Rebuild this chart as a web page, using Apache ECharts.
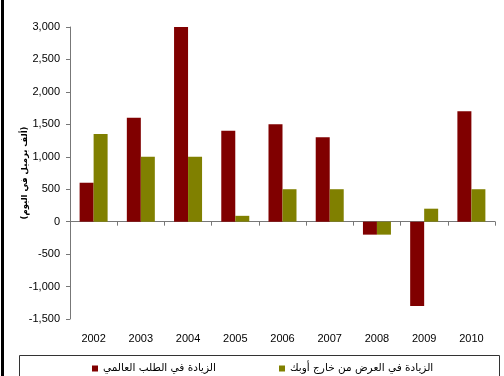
<!DOCTYPE html>
<html>
<head>
<meta charset="utf-8">
<script src="https://cdn.jsdelivr.net/npm/echarts@6/dist/echarts.min.js"></script>
<style>
  html, body { margin: 0; padding: 0; background: #fff; }
  #chart { width: 504px; height: 376px; }
</style>
</head>
<body>
<div id="chart"></div>
<script>
// Years on the category axis
const years = ['2002', '2003', '2004', '2005', '2006', '2007', '2008', '2009', '2010'];
// Growth in world demand (thousand barrels per day)
const demandGrowth = [600, 1600, 3000, 1400, 1500, 1300, -200, -1300, 1700];
// Growth in non-OPEC supply (thousand barrels per day)
const nonOpecSupplyGrowth = [1350, 1000, 1000, 90, 500, 500, -200, 200, 500];
// Series names and axis title
const demandName = 'الزيادة في الطلب العالمي';
const supplyName = 'الزيادة في العرض من خارج أوبك';
const unitTitle = '(ألف برميل في اليوم)';

const chart = echarts.init(document.getElementById('chart'));
const font = '"Liberation Sans", Arial, "DejaVu Sans", sans-serif';
const arabicFont = '"DejaVu Sans", sans-serif';

chart.setOption({
  animation: false,
  backgroundColor: '#fff',
  textStyle: { fontFamily: font },
  grid: { left: 70, right: 9, top: 27, bottom: 57 },
  xAxis: [
    {
      type: 'category',
      data: years,
      axisLine: { onZero: true, lineStyle: { color: '#777', width: 1 } },
      axisTick: { show: true, inside: false, length: 4, lineStyle: { color: '#777' } },
      axisLabel: { show: false }
    },
    {
      type: 'category',
      data: years,
      position: 'bottom',
      axisLine: { show: false, onZero: false },
      axisTick: { show: false },
      axisLabel: { color: '#000', fontSize: 11, margin: 14, fontFamily: font }
    }
  ],
  yAxis: {
    type: 'value',
    min: -1500,
    max: 3000,
    interval: 500,
    splitLine: { show: false },
    axisLine: { show: true, lineStyle: { color: '#777', width: 1 } },
    axisTick: { show: true, length: 4, lineStyle: { color: '#777' } },
    axisLabel: {
      color: '#000',
      fontSize: 11,
      margin: 10,
      fontFamily: font,
      formatter: v => v.toLocaleString('en-US')
    },
    name: unitTitle,
    nameLocation: 'middle',
    nameRotate: 90,
    nameGap: 41,
    nameMoveOverlap: false,
    nameTextStyle: { color: '#000', fontSize: 8.5, fontWeight: 'bold', fontFamily: arabicFont }
  },
  legend: [
    {
      data: [demandName],
      left: 87,
      top: 358,
      icon: 'rect',
      itemWidth: 6,
      itemHeight: 6,
      textStyle: { color: '#000', fontSize: 10.5, fontFamily: arabicFont }
    },
    {
      data: [supplyName],
      left: 274,
      top: 358,
      icon: 'rect',
      itemWidth: 6,
      itemHeight: 6,
      textStyle: { color: '#000', fontSize: 10.5, fontFamily: arabicFont }
    }
  ],
  graphic: [
    // thick frame edge along the left side
    { type: 'rect', left: 1, top: 0, shape: { width: 3, height: 376 }, style: { fill: '#000' } },
    // legend frame
    { type: 'rect', left: 17, top: 353, shape: { width: 480, height: 40 }, style: { fill: 'none', stroke: '#333', lineWidth: 1 } }
  ],
  series: [
    {
      name: demandName,
      type: 'bar',
      data: demandGrowth,
      barWidth: 14,
      barGap: '0%',
      itemStyle: { color: '#800000' }
    },
    {
      name: supplyName,
      type: 'bar',
      data: nonOpecSupplyGrowth,
      barWidth: 14,
      barGap: '0%',
      itemStyle: { color: '#808000' }
    }
  ]
});
</script>
</body>
</html>
